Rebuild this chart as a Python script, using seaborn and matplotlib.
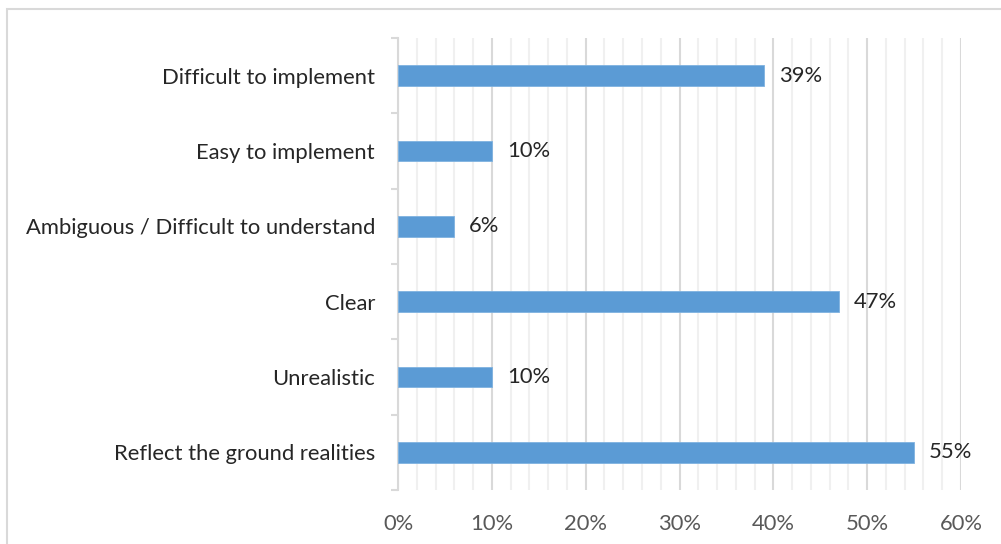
import matplotlib
matplotlib.use("Agg")
import matplotlib.pyplot as plt
from matplotlib.ticker import MultipleLocator, FuncFormatter, FixedLocator
from matplotlib.patches import Rectangle
import seaborn as sns
import pandas as pd

categories = [
    "Difficult to implement",
    "Easy to implement",
    "Ambiguous / Difficult to understand",
    "Clear",
    "Unrealistic",
    "Reflect the ground realities",
]
shares = [39, 10, 6, 47, 10, 55]
x_ticks = [0, 10, 20, 30, 40, 50, 60]

sns.set_theme(style="white")
plt.rcParams["font.family"] = ["Lato", "DejaVu Sans"]

df = pd.DataFrame({"category": categories, "share": shares})

fig = plt.figure(figsize=(10.01, 5.44), dpi=100)
# outer chart frame
fig.patches.append(Rectangle((7 / 1001, -0.1), 1.2, 1 - 9 / 544 + 0.1,
                             transform=fig.transFigure, fill=False,
                             edgecolor="#D9D9D9", linewidth=1.5, zorder=0))

ax = fig.add_axes([398 / 1001, 1 - 490 / 544, (961 - 398) / 1001, (490 - 38) / 544])

sns.barplot(data=df, x="share", y="category", orient="h", color="#5B9BD5",
            width=0.27, saturation=1, edgecolor="#7FB2E0", linewidth=0.6,
            ax=ax, zorder=3)

ax.set_xlim(0, 60)
ax.set_ylim(5.5, -0.5)
ax.xaxis.set_major_locator(FixedLocator(x_ticks))
ax.xaxis.set_minor_locator(MultipleLocator(2))
ax.xaxis.set_major_formatter(FuncFormatter(lambda v, p: f"{v:.0f}%"))
ax.grid(axis="x", which="major", color="#D9D9D9", linewidth=1.5, zorder=0)
ax.grid(axis="x", which="minor", color="#F0F0F0", linewidth=1.5, zorder=0)
ax.set_axisbelow(True)

for s in ("top", "right", "bottom"):
    ax.spines[s].set_visible(False)
ax.spines["left"].set_color("#D9D9D9")
ax.spines["left"].set_linewidth(1.5)

fs = 15.8
ax.set_xlabel("")
ax.set_ylabel("")
ax.tick_params(axis="x", which="both", length=0, labelsize=fs,
               labelcolor="#595959", pad=17)
ax.tick_params(axis="y", which="major", length=0, labelsize=fs,
               labelcolor="#262626", pad=16.5)
# boundary ticks between categories
ax.yaxis.set_minor_locator(FixedLocator([i - 0.5 for i in range(len(categories) + 1)]))
ax.tick_params(axis="y", which="minor", length=5, width=1.5, color="#D9D9D9", left=True)

for i, v in enumerate(shares):
    ax.text(v + 1.6, i, f"{v}%", va="center", ha="left", fontsize=fs,
            color="#262626", zorder=4)

fig.savefig("out.png", dpi=100)
